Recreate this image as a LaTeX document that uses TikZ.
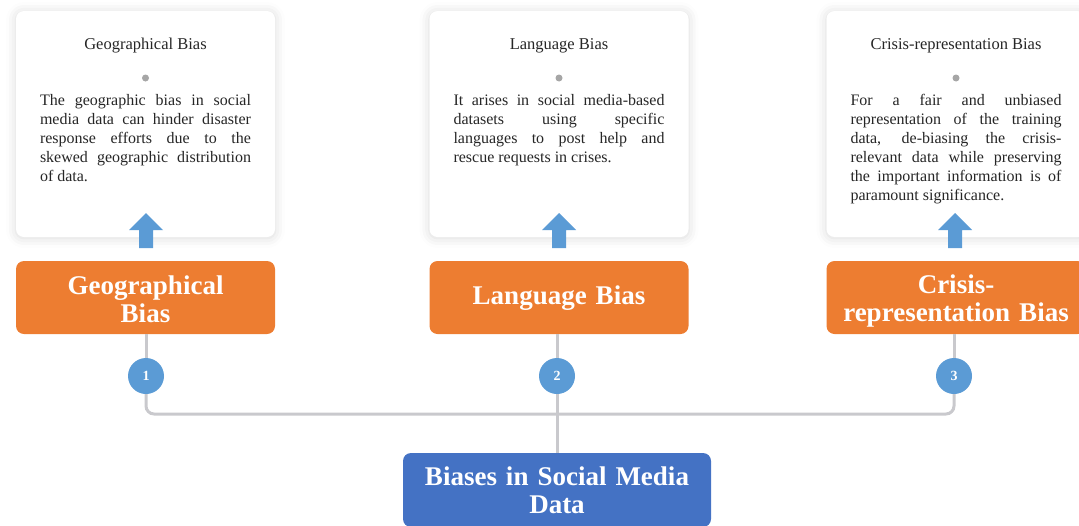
\documentclass[tikz,border=0pt]{standalone}
\usepackage{fontspec}
\setmainfont{Liberation Serif}
\usepackage{tikz}
\usepackage{xcolor}
\usetikzlibrary{shadows.blur}
\definecolor{biasorange}{HTML}{ED7D31}
\definecolor{rootblue}{HTML}{4472C4}
\definecolor{stepblue}{HTML}{5B9BD5}
\definecolor{linegrey}{HTML}{C9C9CD}
\definecolor{dotgrey}{HTML}{A6A6A6}
\definecolor{bodytext}{HTML}{262626}
\tikzset{
  card/.style={rectangle, rounded corners=8, fill=white, inner sep=0,
    minimum width=259, minimum height=226,
    blur shadow={shadow xshift=0pt, shadow yshift=-1pt, shadow blur radius=10pt, shadow opacity=15}},
  cardtitle/.style={text=bodytext, font=\fontsize{16.5}{19}\selectfont},
  carddot/.style={circle, fill=dotgrey, inner sep=0, minimum size=7},
  cardbody/.style={text=bodytext, text width=211, align=justify, inner sep=0, anchor=north,
    font=\fontsize{16}{19}\selectfont},
  biasbox/.style={rectangle, rounded corners=8, fill=biasorange, text=white, inner sep=0,
    minimum width=259, minimum height=73, text width=255, align=center,
    font=\bfseries\fontsize{27}{28}\selectfont},
  rootbox/.style={rectangle, rounded corners=8, fill=rootblue, text=white, inner sep=0,
    minimum width=308, minimum height=74, text width=300, align=center,
    font=\bfseries\fontsize{27}{28}\selectfont},
  num/.style={circle, fill=stepblue, text=white, inner sep=0, minimum size=36,
    font=\bfseries\fontsize{14}{15}\selectfont},
  conn/.style={draw=linegrey, line width=3},
  uparrow/.style={fill=stepblue}
}
\begin{document}
\begin{tikzpicture}[x=1pt,y=-1pt]
\useasboundingbox (0,0) rectangle (1079,525);

\node[card] (card1) at (145.5,124) {};
\node[card] (card2) at (559,124) {};
\node[card] (card3) at (956,124) {};

\node[cardtitle] (t1) at (145.5,45.5) {Geographical Bias};
\node[cardtitle] (t2) at (559,45.5) {Language Bias};
\node[cardtitle] (t3) at (956,45.5) {Crisis-representation Bias};

\node[carddot] (d1) at (145.5,78) {};
\node[carddot] (d2) at (559,78) {};
\node[carddot] (d3) at (956,78) {};

\node[cardbody] (b1) at (145.5,94) {The geographic bias in social\linebreak media data can hinder disaster\linebreak response efforts due to the\linebreak skewed geographic distribution\linebreak of data.};
\node[cardbody] (b2) at (559,94) {It arises in social media-based\linebreak datasets using specific\linebreak languages to post help and\linebreak rescue requests in crises.};
\node[cardbody] (b3) at (956,94) {For a fair and unbiased\linebreak representation of the training\linebreak data, de-biasing the crisis-\linebreak relevant data while preserving\linebreak the important information is of\linebreak paramount significance.};

\coordinate (a1) at (146,213);
\coordinate (a2) at (559,213);
\coordinate (a3) at (955,213);
\fill[uparrow] (a1) -- ++(17,17) -- ++(-10,0) -- ++(0,18) -- ++(-14,0) -- ++(0,-18) -- ++(-10,0) -- cycle;
\fill[uparrow] (a2) -- ++(17,17) -- ++(-10,0) -- ++(0,18) -- ++(-14,0) -- ++(0,-18) -- ++(-10,0) -- cycle;
\fill[uparrow] (a3) -- ++(17,17) -- ++(-10,0) -- ++(0,18) -- ++(-14,0) -- ++(0,-18) -- ++(-10,0) -- cycle;

\node[biasbox] (geo) at (145.5,297.5) {\rule{0pt}{22.5pt}Geographical\\Bias};
\node[biasbox] (lang) at (559,297.5) {\rule{0pt}{20.5pt}Language Bias};
\node[biasbox] (crisis) at (956,297.5) {\rule{0pt}{25.5pt}Crisis-\\representation Bias};

\node[rootbox] (root) at (557,490) {Biases in Social Media\\Data};

\node[num] (n1) at (146,376) {1};
\node[num] (n2) at (557,376) {2};
\node[num] (n3) at (954,376) {3};

\coordinate (bus) at (557,414);
\draw[conn] (geo.south -| n1) -- (n1);
\draw[conn] (lang.south -| n2) -- (n2);
\draw[conn] (crisis.south -| n3) -- (n3);
\draw[conn, rounded corners=8] (n1) |- (bus) -| (n3);
\draw[conn] (n2) -- (root);
\end{tikzpicture}
\end{document}
